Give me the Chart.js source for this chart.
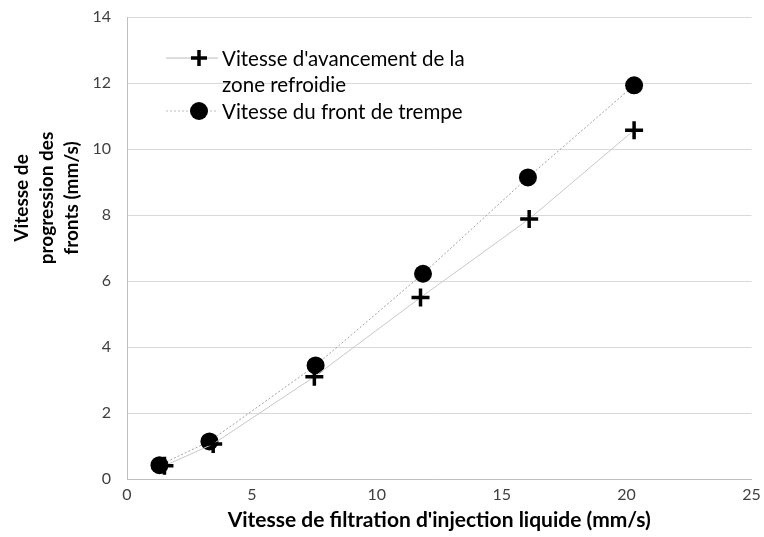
<!DOCTYPE html>
<html><head><meta charset="utf-8">
<script src="https://cdn.jsdelivr.net/npm/chart.js@4/dist/chart.umd.min.js"></script>
<style>html,body{margin:0;padding:0;background:#fff}#wrap{width:764px;height:537px;position:relative}</style>
</head><body><div id="wrap"><canvas id="c" width="764" height="537"></canvas></div>
<script>
const seriesNames = ["Vitesse d'avancement de la zone refroidie", "Vitesse du front de trempe"];
const legendLines = [["Vitesse d'avancement de la", "zone refroidie"], ["Vitesse du front de trempe"]];
const xZone = [1.5, 3.45, 7.5, 11.75, 16.1, 20.3];
const yZone = [0.40, 1.06, 3.10, 5.50, 7.88, 10.57];
const xFront = [1.3, 3.3, 7.55, 11.85, 16.05, 20.3];
const yFront = [0.42, 1.14, 3.44, 6.22, 9.14, 11.93];
const xTitle = "Vitesse de filtration d'injection liquide (mm/s)";
const yTitle = ["Vitesse de", "progression des", "fronts (mm/s)"];
const FONT = "Lato, 'Open Sans', sans-serif";

const legendPlugin = {
  id: 'insideLegend',
  afterDraw(chart) {
    const ctx = chart.ctx;
    ctx.save();
    ctx.font = "20.5px " + FONT;
    ctx.fillStyle = '#000';
    ctx.textBaseline = 'middle';
    const x0 = 190, tx = 222;
    const rows = [{y: 58, style: 'cross', dash: []}, {y: 111, style: 'circle', dash: [2, 2]}];
    rows.forEach((r, i) => {
      ctx.strokeStyle = '#bbb'; ctx.lineWidth = 1; ctx.setLineDash(r.dash);
      ctx.beginPath(); ctx.moveTo(x0 - 24, r.y); ctx.lineTo(x0 + 28, r.y); ctx.stroke();
      ctx.setLineDash([]);
      ctx.fillStyle = '#000'; ctx.strokeStyle = '#000';
      if (r.style === 'cross') {
        ctx.lineWidth = 3.5;
        ctx.beginPath(); ctx.moveTo(x0 + 9 - 8, r.y); ctx.lineTo(x0 + 9 + 8, r.y);
        ctx.moveTo(x0 + 9, r.y - 8); ctx.lineTo(x0 + 9, r.y + 8); ctx.stroke();
      } else {
        ctx.beginPath(); ctx.arc(x0 + 9, r.y, 9, 0, Math.PI * 2); ctx.fill();
      }
      ctx.fillStyle = '#000';
      legendLines[i].forEach((t, j) => ctx.fillText(t, tx, r.y + 1 + j * 26));
    });
    // y-axis title (multi-line, rotated)
    ctx.font = "bold 19px " + FONT;
    ctx.textAlign = 'center';
    ctx.textBaseline = 'middle';
    const cy = 198, xs = [22, 47, 72];
    yTitle.forEach((t, j) => {
      ctx.save();
      ctx.translate(xs[j], cy);
      ctx.rotate(-Math.PI / 2);
      ctx.fillText(t, 0, 0);
      ctx.restore();
    });
    ctx.restore();
  }
};

new Chart(document.getElementById('c'), {
  type: 'scatter',
  data: {
    datasets: [
      {
        label: seriesNames[0],
        data: xZone.map((x, i) => ({x, y: yZone[i]})),
        showLine: true, borderColor: '#c8c8c8', borderWidth: 1,
        pointStyle: 'cross', pointRadius: 9, pointBorderWidth: 3.5,
        pointBorderColor: '#000', pointBackgroundColor: '#000'
      },
      {
        label: seriesNames[1],
        data: xFront.map((x, i) => ({x, y: yFront[i]})),
        showLine: true, borderColor: '#a0a0a0', borderWidth: 1, borderDash: [2, 2],
        pointStyle: 'circle', pointRadius: 9, pointBorderWidth: 0,
        pointBorderColor: '#000', pointBackgroundColor: '#000'
      }
    ]
  },
  options: {
    responsive: false, animation: false,
    layout: {padding: {top: 17, right: 11, left: 8, bottom: 0}},
    plugins: {legend: {display: false}, tooltip: {enabled: false}},
    scales: {
      x: {
        type: 'linear', min: 0, max: 25,
        afterFit(s) { s.height = 58; s.paddingLeft = 0; s.paddingRight = 0; },
        ticks: {stepSize: 5, color: '#404040', font: {family: FONT, size: 16}, padding: 6},
        grid: {display: false, drawTicks: false},
        border: {display: true, color: '#bfbfbf', width: 1},
        title: {display: true, text: xTitle, color: '#000', font: {family: FONT, size: 21, weight: 'bold'}, padding: {top: 2}}
      },
      y: {
        min: 0, max: 14,
        afterFit(s) { s.width = 119; s.paddingTop = 0; s.paddingBottom = 0; },
        ticks: {stepSize: 2, color: '#404040', font: {family: FONT, size: 16}, padding: 16},
        grid: {color: '#d9d9d9', drawTicks: false},
        border: {display: true, color: '#bfbfbf', width: 1},
        title: {display: false}
      }
    }
  },
  plugins: [legendPlugin]
});
</script></body></html>
